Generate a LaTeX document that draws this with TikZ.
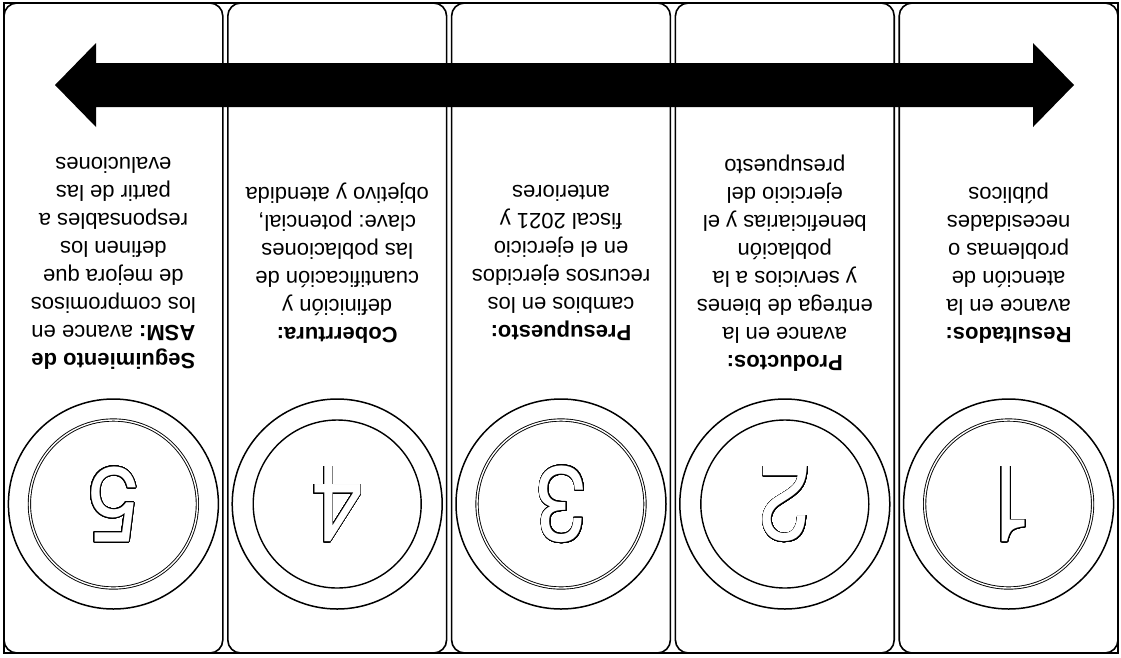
\documentclass[tikz,border=0pt]{standalone}
\usepackage{fontspec}
\setmainfont{Liberation Sans}
\newfontfamily\numfont{TeX Gyre Heros}
\usepackage{contour}
\contourlength{0.8pt}
\contournumber{48}
\frenchspacing
\begin{document}
\begin{tikzpicture}[x=1pt,y=-1pt,
  panel/.style={draw=black,line width=1.6pt,rounded corners=13pt},
  frame/.style={draw=black,line width=1.4pt},
  outerring/.style={circle,draw=black,line width=1.5pt,minimum size=210pt,inner sep=0pt},
  innerring/.style={circle,draw=black,line width=1.4pt,minimum size=168pt,inner sep=0pt},
  dinnerring/.style={circle,draw=black,line width=0.9pt,double=white,double distance=1.4pt,minimum size=168pt,inner sep=0pt},
  txt/.style={rotate=180,align=center,font=\fontsize{22}{28}\selectfont,inner sep=0pt},
  num/.style={rotate=180,text=white,inner sep=0pt}]
\useasboundingbox (0,0) rectangle (1121,657);
\draw[frame] (4,3) rectangle (1118,653);
\foreach \i in {0,...,4} {
  \pgfmathsetmacro\xa{4+\i*223.8}
  \pgfmathsetmacro\xb{\xa+218.8}
  \draw[panel] (\xa,3) rectangle (\xb,653);
}
\newcommand\bignum[1]{\scalebox{0.88}[1]{\contour{black}{\numfont\fontsize{106}{106}\selectfont #1}}}
% circles
\node[outerring] (o1) at (1008.6,504) {};
\node[dinnerring] (i1) at (o1.center) {};
\node[num] (n1) at (o1.center) {\bignum{1}};
\node[outerring] (o2) at (784.8,504) {};
\node[innerring] (i2) at (o2.center) {};
\node[num] (n2) at (o2.center) {\bignum{2}};
\node[outerring] (o3) at (561,504) {};
\node[dinnerring] (i3) at (o3.center) {};
\node[num] (n3) at (o3.center) {\bignum{3}};
\node[outerring] (o4) at (337.2,504) {};
\node[innerring] (i4) at (o4.center) {};
\node[num] (n4) at (o4.center) {\bignum{4}};
\node[outerring] (o5) at (113.4,504) {};
\node[dinnerring] (i5) at (o5.center) {};
\node[num] (n5) at (o5.center) {\bignum{5}};
% texts
\node[txt] (t1) at (1008.6,263) {\textbf{Resultados:}\\avance en la\\atención de\\problemas o\\necesidades\\públicos};
\node[txt] (t2) at (784.8,263) {\textbf{Productos:}\\avance en la\\entrega de bienes\\y servicios a la\\población\\beneficiarias y el\\ejercicio del\\presupuesto};
\node[txt] (t3) at (561,263) {\textbf{Presupuesto:}\\cambios en los\\recursos ejercidos\\en el ejercicio\\fiscal 2021 y\\anteriores};
\node[txt] (t4) at (337.2,263) {\textbf{Coberrtura:}\\definición y\\cuantificación de\\las poblaciones\\clave: potencial,\\objetivo y atendida};
\node[txt] (t5) at (113.4,263) {\textbf{Seguimiento de}\\\textbf{ASM:} avance en\\los compromisos\\de mejora que\\definen los\\responsables a\\partir de las\\evaluciones};
% double-headed arrow
\fill[black] (55,85) -- (96,43) -- (96,63) -- (1033,63) -- (1033,43) -- (1074,85)
  -- (1033,127) -- (1033,107) -- (96,107) -- (96,127) -- cycle;
\end{tikzpicture}
\end{document}
